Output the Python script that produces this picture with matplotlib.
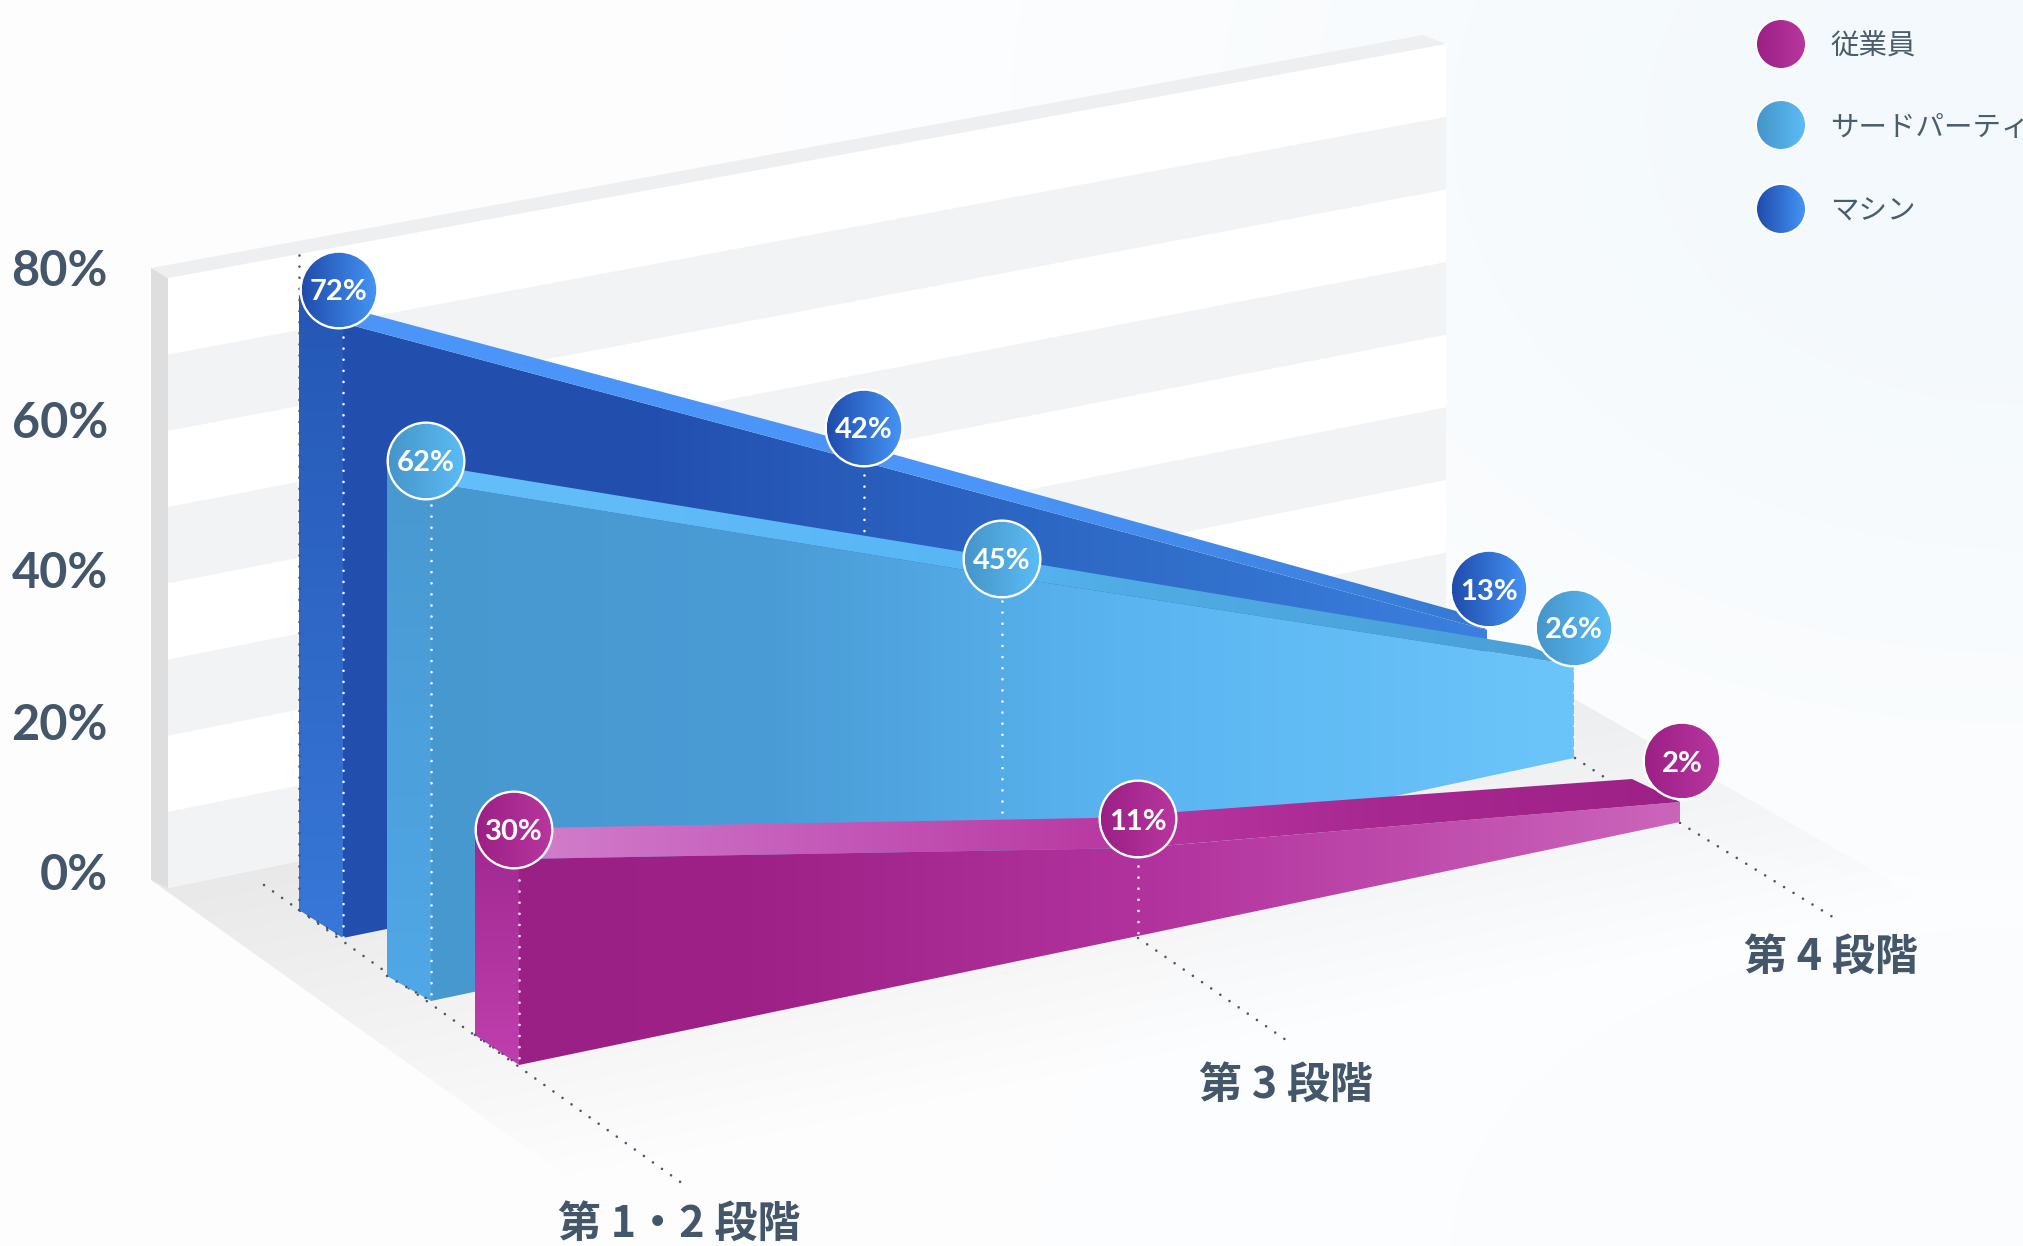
#!/usr/bin/env python3
"""Stacked-depth area chart of breach stages by actor type, drawn as a faux 3D scene."""

import numpy as np
import matplotlib
matplotlib.use("Agg")
import matplotlib.pyplot as plt
from matplotlib.colors import to_rgb
from matplotlib.patches import Circle, Polygon

plt.rcParams["font.family"] = ["Noto Sans CJK JP", "DejaVu Sans"]

# chart values
stages = ["第 1・2 段階", "第 3 段階", "第 4 段階"]
machine = [72, 42, 13]
third_party = [62, 45, 26]
employee = [30, 11, 2]
axis_ticks = [0, 20, 40, 60, 80]
legend_names = ["従業員", "サードパーティ", "マシン"]

W, H = 2023, 1246
INK = "#43566a"

# scene layout, in pixels: x of each stage, floor height and px-per-percent per series
LAYOUT = {
    "machine": dict(x=[343, 864, 1487], base=[938, 831, 703],
                    scale=[8.542, 8.786, 5.615],
                    depth_x=[-44, -44, -20], depth_y=[-28, -28, -16],
                    bubble=[(-4, -33), (0, -34), (2, -41)]),
    "third": dict(x=[431, 1002, 1574], base=[1001, 880, 758],
                  scale=[8.355, 6.756, 3.577],
                  depth_x=[-44, -44, -44], depth_y=[-25, -25, -19],
                  bubble=[(-5, -22), (0, -17), (0, -37)]),
    "employee": dict(x=[519, 1138, 1680], base=[1065, 936, 822],
                     scale=[6.867, 8.0, 10.0],
                     depth_x=[-44, -44, -48], depth_y=[-30, -30, -23],
                     bubble=[(-5, -29), (0, -29), (2, -41)]),
}

# face colours as (position, colour) stops
FRONT = {
    "machine": [(0, "#224eae"), (0.25, "#224eae"), (0.5, "#2a60bf"), (0.75, "#3170cb"), (1, "#3b80e0")],
    "third": [(0, "#4898d0"), (0.3, "#4a9cd6"), (0.6, "#5ab4f0"), (1, "#6cc5fa")],
    "employee": [(0, "#9b2085"), (0.2, "#9d2187"), (0.55, "#b2339e"), (1, "#cb65bb")],
}
TOP = {
    "machine": [(0, "#4a95f7"), (0.6, "#4a95f7"), (0.85, "#3f84e2"), (1, "#3478d0")],
    "third": [(0, "#66bff9"), (0.5, "#58b6f5"), (0.62, "#50ace4"), (1, "#4a9fd8")],
    "employee": [(0, "#d484cf"), (0.3, "#c458b8"), (0.55, "#b8369f"), (0.75, "#a82892"), (1, "#9c2185")],
}
SIDE = {
    "machine": [(0, "#2557b5"), (1, "#3878d8")],
    "third": [(0, "#4898d0"), (1, "#50a8e6")],
    "employee": [(0, "#a0288f"), (1, "#bf3fae")],
}
BUBBLE = {
    "machine": [(0, "#1f4bab"), (1, "#4595f5")],
    "third": [(0, "#4595c9"), (1, "#5bbcf5")],
    "employee": [(0, "#9b2085"), (1, "#b8369f")],
}


def ramp(stops, n=512):
    pos = [s[0] for s in stops]
    rgb = np.array([to_rgb(s[1]) for s in stops])
    t = np.linspace(0, 1, n)
    return np.stack([np.interp(t, pos, rgb[:, i]) for i in range(3)], axis=-1)


def fill_gradient(ax, patch, stops, z, vertical=False):
    """Fill a patch with a linear gradient by clipping an image to it."""
    ax.add_patch(patch)
    patch.set_facecolor("none")
    patch.set_edgecolor("none")
    box = patch.get_path().transformed(patch.get_patch_transform()).get_extents()
    if isinstance(patch, Polygon):
        box = patch.get_path().get_extents()
    colours = ramp(stops)
    img = colours[:, None, :] if vertical else colours[None, :, :]
    im = ax.imshow(img, extent=(box.x0, box.x1, box.y1, box.y0), origin="upper",
                   aspect="auto", interpolation="nearest", zorder=z)
    im.set_clip_path(patch)
    return im


def dotted(ax, xs, ys, colour, z, lw=1.9, gap=4.2):
    ax.plot(xs, ys, color=colour, lw=lw, linestyle=(0, (0.01, gap)),
            dash_capstyle="round", zorder=z)


fig = plt.figure(figsize=(W / 100, H / 100), dpi=100)
ax = fig.add_axes([0, 0, 1, 1])

# page background, a very pale blue towards the right
gx, gy = np.meshgrid(np.arange(0, W, 4), np.arange(0, H, 4))
glow = np.exp(-((gx - W) ** 2 / 800.0 ** 2 + (gy - 120) ** 2 / 600.0 ** 2))
glow = np.maximum(glow, 0.3 * np.exp(-((gx - W) ** 2 / 900.0 ** 2 + (gy - H) ** 2 / 500.0 ** 2)))
paper = np.array([254, 254, 255]) / 255
tint = np.array([243, 249, 252]) / 255
ax.imshow(paper + glow[..., None] * (tint - paper), extent=(0, W, H, 0), aspect="auto",
          interpolation="bilinear", zorder=0)

# floor fades out towards the viewer
wall_floor = lambda x: 888 - 0.2053 * (x - 168)
alpha = np.clip(1 - (gy - wall_floor(gx)) / 370.0, 0, 1) * 0.72
floor_img = np.dstack([np.full(gx.shape, 0.885), np.full(gx.shape, 0.885), np.full(gx.shape, 0.89), alpha])
floor_patch = Polygon([(151, 880), (168, 888), (1446, 625), (W, 957), (W, H), (664, H - 0)],
                      closed=True, fc="none", ec="none")
ax.add_patch(floor_patch)
floor_im = ax.imshow(floor_img, extent=(0, W, H, 0), aspect="auto", interpolation="bilinear", zorder=1)
floor_im.set_clip_path(floor_patch)

# back wall with alternating bands every 10%
wall_left = lambda v: 888 - (888 - 278) * v / 80
wall_right = lambda v: 625 - (625 - 44) * v / 80
for i in range(0, axis_ticks[-1], 10):
    band = "#f2f3f5" if (i // 10) % 2 == 0 else "#ffffff"
    ax.add_patch(Polygon([(168, wall_left(i)), (1446, wall_right(i)),
                          (1446, wall_right(i + 10)), (168, wall_left(i + 10))],
                         closed=True, fc=band, ec=band, lw=0.3, zorder=2))
ax.add_patch(Polygon([(151, 268), (168, 278), (1446, 44), (1423, 35)], closed=True,
                     fc="#eeeff1", ec="none", zorder=3))
ax.add_patch(Polygon([(151, 268), (168, 278), (168, 888), (151, 880)], closed=True,
                     fc="#dedede", ec="none", zorder=3))

# axis labels share a linear scale
tick_y = lambda v: 872 - v * 7.55
for v in axis_ticks:
    ax.text(108, tick_y(v), f"{v}%", ha="right", va="center_baseline", color=INK,
            fontsize=35, family="Lato", fontweight="bold", zorder=4)

# dark guide dots behind the solids
dotted(ax, [264, 686], [885, 1186], "#4a5568", 5)
dotted(ax, [1138, 1286], [938, 1040], "#4a5568", 5)
dotted(ax, [1575, 1604], [758, 777], "#4a5568", 5)
dotted(ax, [1680, 1836], [823, 919], "#4a5568", 5)

series = [("machine", machine, 10), ("third", third_party, 20), ("employee", employee, 30)]
tops = {}
for key, values, z in series:
    lay = LAYOUT[key]
    xs = np.array(lay["x"], float)
    base = np.array(lay["base"], float)
    top = base - np.array(values) * np.array(lay["scale"])
    tops[key] = top
    dx = np.array(lay["depth_x"], float)
    dy = np.array(lay["depth_y"], float)

    front = list(zip(xs, base)) + list(zip(xs[::-1], top[::-1]))
    fill_gradient(ax, Polygon(front, closed=True), FRONT[key], z)

    lid = list(zip(xs, top)) + list(zip((xs + dx)[::-1], (top + dy)[::-1]))
    fill_gradient(ax, Polygon(lid, closed=True), TOP[key], z + 1)

    side = [(xs[0] + dx[0], base[0] + dy[0]), (xs[0], base[0]), (xs[0], top[0]),
            (xs[0] + dx[0], top[0] + dy[0])]
    fill_gradient(ax, Polygon(side, closed=True), SIDE[key], z + 2, vertical=True)

    # dark dots running along the footprint of each solid
    dotted(ax, [xs[0] + dx[0], xs[0]], [base[0] + dy[0], base[0]], "#4a5568", z + 2.5)

# the rear left edge carries a dark dotted rule up past the top of the solid
dotted(ax, [299, 299], [255, 909], "#4a5568", 12.6)

# white drop lines from the value bubbles
line_spans = {
    "machine": [(337, 938), (475, 536), None],
    "third": [(505, 1001), (601, 818), (670, 758)],
    "employee": [(880, 1065), (866, 937), (825, 822)],
}
line_z = {"machine": 13, "third": 23, "employee": 33}
for key, values, z in series:
    for x, span in zip(LAYOUT[key]["x"], line_spans[key]):
        if span:
            dotted(ax, [x, x], span, "white", line_z[key])

# value bubbles
for key, values, z in series:
    lay = LAYOUT[key]
    for x, t, v, (ox, oy) in zip(lay["x"], tops[key], values, lay["bubble"]):
        cx, cy = x + ox, t + oy
        ax.add_patch(Circle((cx, cy), 39.5, fc="white", ec="none", zorder=40))
        fill_gradient(ax, Circle((cx, cy), 37.2), BUBBLE[key], 41)
        ax.text(cx, cy, f"{v}%", ha="center", va="center_baseline", color="white",
                fontsize=21, family="Lato", fontweight="bold", zorder=42)

# stage captions
for (lx, ly), name in zip([(679, 1224), (1286, 1085), (1831, 957)], stages):
    ax.text(lx, ly, name, ha="center", va="center", color=INK, fontsize=31,
            fontweight="bold", zorder=45)

# legend
for name, key, ly in zip(legend_names, ["employee", "third", "machine"], [44, 125, 209]):
    ax.add_patch(Circle((1781, ly), 26, fc="white", ec="none", zorder=40))
    fill_gradient(ax, Circle((1781, ly), 24), BUBBLE[key], 41)
    ax.text(1830, ly + 3, name, ha="left", va="center", color="#4a5d6e", fontsize=20.5, zorder=42)

ax.set_xlim(0, W)
ax.set_ylim(H, 0)
ax.axis("off")
fig.savefig("out.png", dpi=100)
